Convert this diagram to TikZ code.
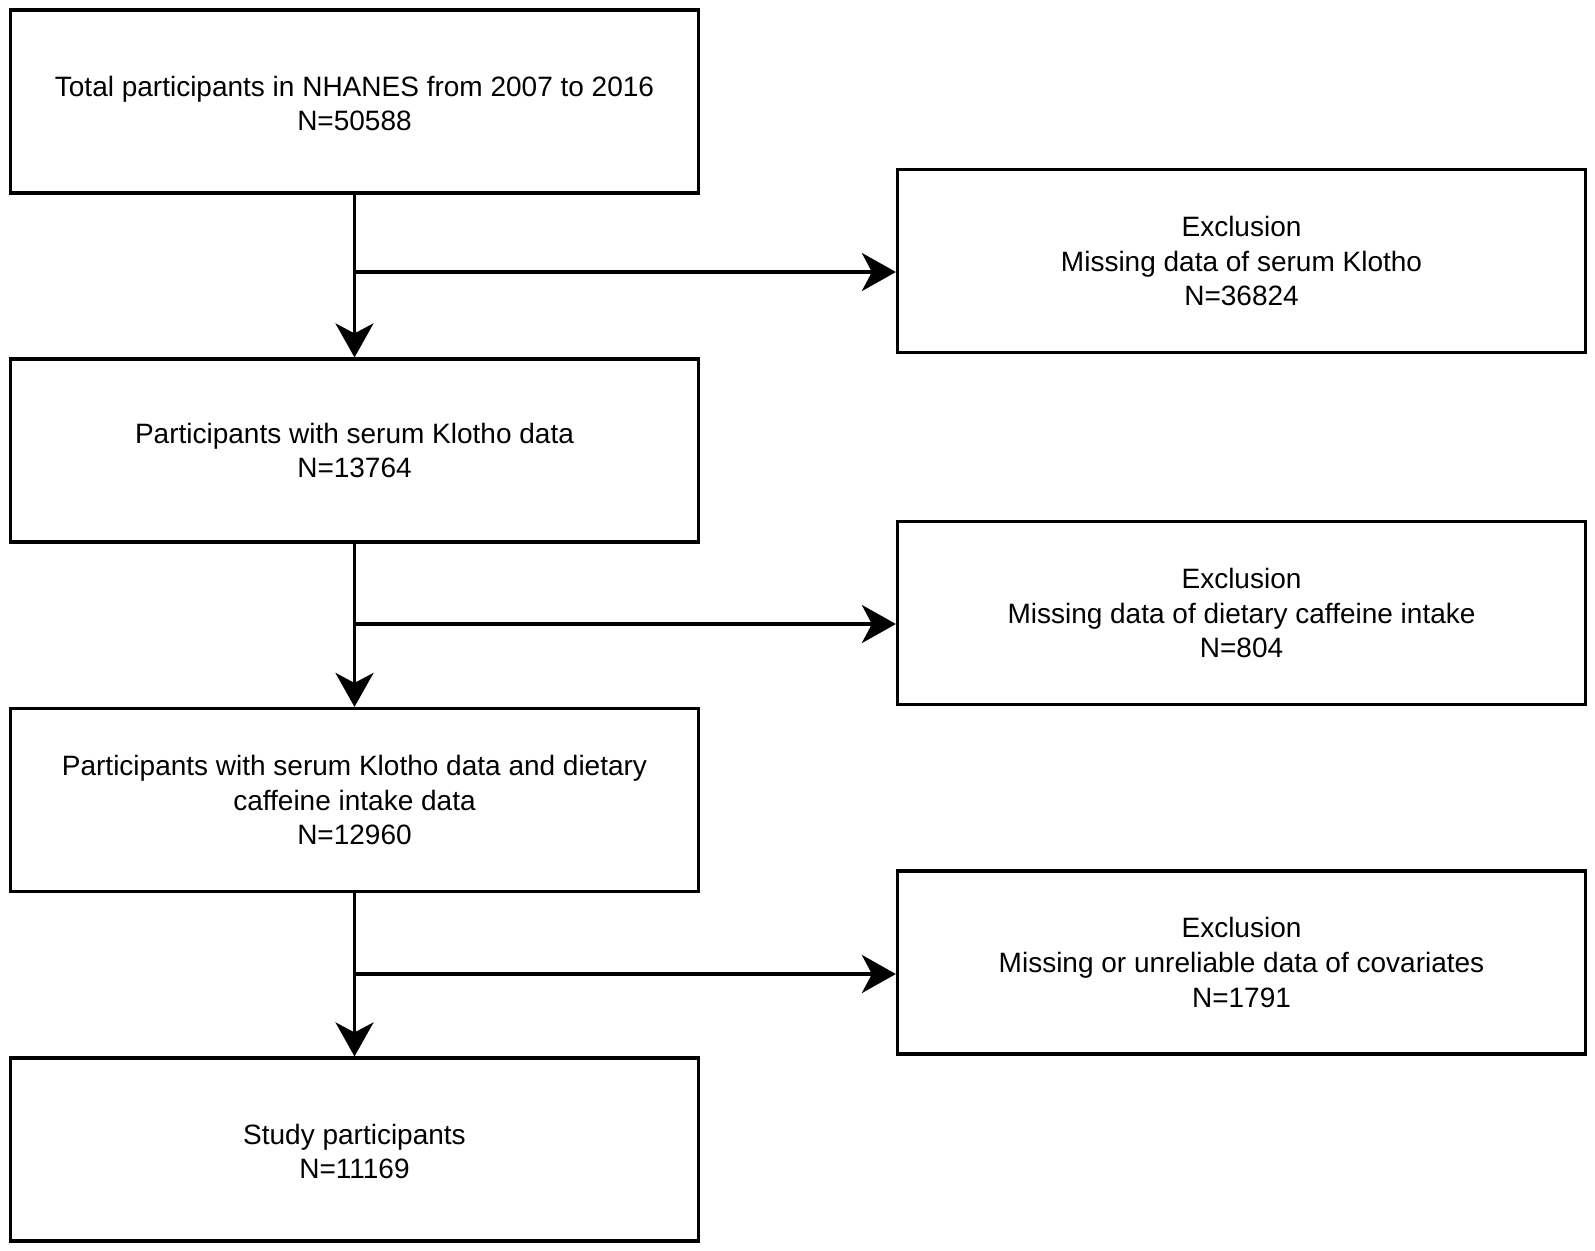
\documentclass[tikz,border=0pt]{standalone}
\usepackage{fontspec}
\setmainfont{Liberation Sans}
\usetikzlibrary{arrows.meta}
\begin{document}
\begin{tikzpicture}[x=0.5pt, y=-0.5pt, line width=1.6pt,
		stage/.style={draw, minimum width=344pt, minimum height=91.5pt, align=center, inner sep=0pt, font=\fontsize{14pt}{17.3pt}\selectfont},
		flow/.style={-{Stealth[length=17pt, width=19pt, inset=5pt]}}]
		\useasboundingbox (0, 0) rectangle (1595, 1250);
		\node[stage] (total) at (354.5, 101.5) {\\[-5pt]Total participants in NHANES from 2007 to 2016\\N=50588};
		\node[stage] (klotho) at (354.5, 450.5) {Participants with serum Klotho data\\N=13764};
		\node[stage] (caffeine) at (354.5, 800) {Participants with serum Klotho data and dietary\\caffeine intake data\\N=12960};
		\node[stage] (study) at (354.5, 1149.5) {\\[-5pt]Study participants\\N=11169};
		\node[stage] (exklotho) at (1241.5, 261) {Exclusion\\Missing data of serum Klotho\\N=36824};
		\node[stage] (excaffeine) at (1241.5, 613) {Exclusion\\Missing data of dietary caffeine intake\\N=804};
		\node[stage] (excov) at (1241.5, 962.5) {Exclusion\\Missing or unreliable data of covariates\\N=1791};
		\coordinate (cut1) at (354.5, 272);
		\coordinate (cut2) at (354.5, 624);
		\coordinate (cut3) at (354.5, 974);
		\draw[flow] (total) -- (klotho);
		\draw[flow] (klotho) -- (caffeine);
		\draw[flow] (caffeine) -- (study);
		\draw[flow] (cut1) -- (cut1 -| exklotho.west);
		\draw[flow] (cut2) -- (cut2 -| excaffeine.west);
		\draw[flow] (cut3) -- (cut3 -| excov.west);
	\end{tikzpicture}
\end{document}
